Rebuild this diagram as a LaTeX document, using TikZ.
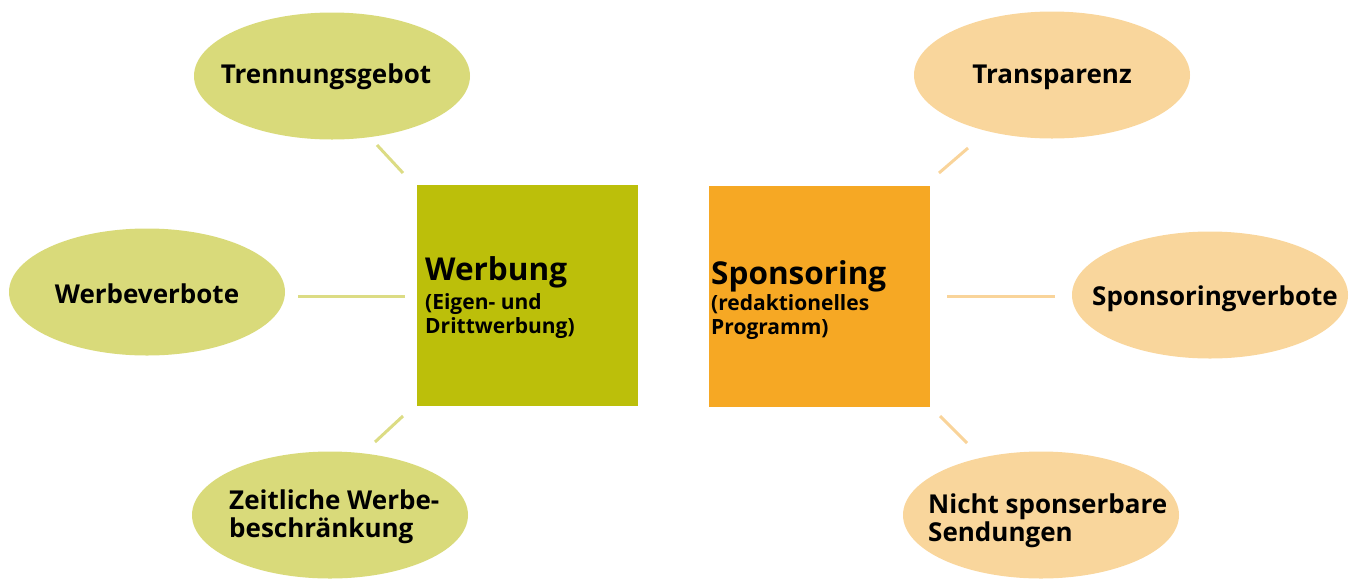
\documentclass[tikz,border=0pt]{standalone}
\usepackage{fontspec}
\setmainfont{Open Sans}
\usetikzlibrary{shapes.geometric}

\definecolor{greenfill}{HTML}{D9DA7A}
\definecolor{greenbox}{HTML}{BCBF0A}
\definecolor{greenline}{HTML}{DCDC84}
\definecolor{orangefill}{HTML}{F9D69C}
\definecolor{orangebox}{HTML}{F6A824}
\definecolor{orangeline}{HTML}{F9D49A}

\tikzset{
  topic/.style={ellipse, minimum width=276pt, minimum height=127pt, inner sep=0pt},
  greentopic/.style={topic, fill=greenfill},
  orangetopic/.style={topic, fill=orangefill},
  topictext/.style={inner sep=0pt, font=\fontsize{26}{28}\selectfont\bfseries, align=left},
  centerbox/.style={rectangle, minimum width=221pt, minimum height=221pt, inner sep=0pt},
  boxtext/.style={inner sep=0pt, font=\fontsize{21}{23.5}\selectfont\bfseries, align=left},
  greenlink/.style={draw=greenline, line width=3pt},
  orangelink/.style={draw=orangeline, line width=3pt},
}

\begin{document}
\begin{tikzpicture}[x=1pt, y=-1pt]
  \useasboundingbox (0,0) rectangle (1349,579);

  % central boxes
  \node[centerbox, fill=greenbox] (werbung) at (527,295.5) {};
  \node[centerbox, fill=orangebox] (sponsoring) at (819,296) {};

  % box texts (base anchor = baseline of the last line)
  \node[boxtext, anchor=base west] (werbung-t) at (425,333)
    {{\fontsize{31.5}{34}\selectfont Werbung}\\[4pt]
     (Eigen- und\\ Drittwerbung)};
  \node[boxtext, anchor=base west] (sponsoring-t) at (711,334)
    {{\fontsize{31.5}{34}\selectfont Sponsoring}\\[1pt]
     (redaktionelles\\ Programm)};

  % topic ellipses around Werbung
  \node[greentopic] (trennung) at (332,76) {};
  \node[greentopic] (werbeverbote) at (147,292) {};
  \node[greentopic] (zeitlich) at (330,515) {};

  % topic ellipses around Sponsoring
  \node[orangetopic] (transparenz) at (1052,75) {};
  \node[orangetopic] (sponsverbote) at (1210,295) {};
  \node[orangetopic] (nichtspons) at (1041,515) {};

  % topic labels (for two-line labels the base anchor is the last line)
  \node[topictext, anchor=base] (trennung-t) at (326,83) {Trennungsgebot};
  \node[topictext, anchor=base] (werbeverbote-t) at (147,303) {Werbeverbote};
  \node[topictext, anchor=base west] (zeitlich-t) at (229,537) {Zeitliche Werbe-\\beschränkung};
  \node[topictext, anchor=base] (transparenz-t) at (1052,83) {Transparenz};
  \node[topictext, anchor=base] (sponsverbote-t) at (1215,305) {Sponsoringverbote};
  \node[topictext, anchor=base west] (nichtspons-t) at (928,541) {Nicht sponserbare\\Sendungen};

  % short link strokes in the gaps
  \coordinate (t1) at (377,145);  \coordinate (t2) at (403,173);
  \coordinate (w1) at (298,296);  \coordinate (w2) at (405,296);
  \coordinate (z1) at (403,416);  \coordinate (z2) at (375,442);
  \coordinate (p1) at (968,148);  \coordinate (p2) at (939,173);
  \coordinate (s1) at (947,296);  \coordinate (s2) at (1055,296);
  \coordinate (n1) at (940,416);  \coordinate (n2) at (967,443);

  \draw[greenlink] (t1) -- (t2);
  \draw[greenlink] (w1) -- (w2);
  \draw[greenlink] (z1) -- (z2);
  \draw[orangelink] (p1) -- (p2);
  \draw[orangelink] (s1) -- (s2);
  \draw[orangelink] (n1) -- (n2);
\end{tikzpicture}
\end{document}
